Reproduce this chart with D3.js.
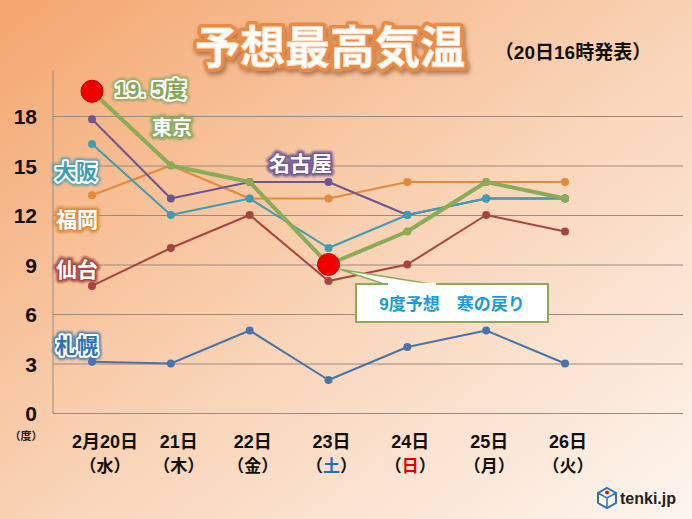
<html>
<head>
    <meta charset="utf-8">
    <script src="https://d3js.org/d3.v7.min.js"></script>
    <style>
        body { margin: 0; }
        text { font-family: "Liberation Sans", "Noto Sans CJK JP", sans-serif; font-weight: bold; }
        .grid line { stroke: #9a8a80; stroke-width: 1; }
    </style>
</head>
<body>
<svg width="692" height="519"></svg>
<script>
    const width = 692, height = 519;

    const days = ["2/20", "2/21", "2/22", "2/23", "2/24", "2/25", "2/26"];
    const dayLabels = ["2月20日", "21日", "22日", "23日", "24日", "25日", "26日"];
    const weekdays = ["水", "木", "金", "土", "日", "月", "火"];
    const yTicks = [0, 3, 6, 9, 12, 15, 18];

    const sapporo = [3.1, 3, 5, 2, 4, 5, 3];
    const sendai = [7.7, 10, 12, 8, 9, 12, 11];
    const fukuoka = [13.2, 15, 13, 13, 14, 14, 14];
    const nagoya = [17.8, 13, 14, 14, 12, 13, 13];
    const osaka = [16.3, 12, 13, 10, 12, 13, 13];
    const tokyo = [19.5, 15, 14, 9, 11, 14, 13];

    const series = [
        { name: "札幌", values: sapporo, color: "#4a74a8", w: 2 },
        { name: "仙台", values: sendai, color: "#a6453f", w: 2 },
        { name: "福岡", values: fukuoka, color: "#e08a3c", w: 2 },
        { name: "名古屋", values: nagoya, color: "#6c5595", w: 2 },
        { name: "大阪", values: osaka, color: "#3f9db3", w: 2 },
        { name: "東京", values: tokyo, color: "#8aab57", w: 4 }
    ];

    const svg = d3.select("svg");
    const defs = svg.append("defs");

    const bg = defs.append("linearGradient").attr("id", "bg")
        .attr("x1", "0%").attr("y1", "0%").attr("x2", "100%").attr("y2", "100%");
    bg.append("stop").attr("offset", "0%").attr("stop-color", "#f4a66e");
    bg.append("stop").attr("offset", "50%").attr("stop-color", "#f9d2b4");
    bg.append("stop").attr("offset", "100%").attr("stop-color", "#fdf5ef");

    const glow = defs.append("filter").attr("id", "glow")
        .attr("x", "-20%").attr("y", "-30%").attr("width", "140%").attr("height", "160%");
    glow.append("feGaussianBlur").attr("stdDeviation", 1.2);

    const shadow = defs.append("filter").attr("id", "shadow")
        .attr("x", "-10%").attr("y", "-20%").attr("width", "130%").attr("height", "150%");
    shadow.append("feDropShadow").attr("dx", 2).attr("dy", 3)
        .attr("stdDeviation", 2).attr("flood-color", "#7a4a2a").attr("flood-opacity", 0.6);

    svg.append("rect").attr("width", width).attr("height", height).attr("fill", "url(#bg)");

    const x = d3.scalePoint().domain(days).range([92, 565]);
    const y = d3.scaleLinear().domain([0, 18]).range([413, 116]);

    // gridlines
    svg.append("g")
       .attr("class", "grid")
       .attr("transform", "translate(53,0)")
       .call(d3.axisLeft(y).tickValues(yTicks).tickSize(-630).tickFormat(""))
       .call(g => g.select(".domain").remove());

    svg.append("line")
       .attr("x1", 53).attr("x2", 53).attr("y1", 70).attr("y2", 413)
       .attr("stroke", "#9a8a80");

    svg.append("g").selectAll("text")
       .data(yTicks)
       .enter().append("text")
       .attr("x", 37).attr("y", d => y(d) + 8)
       .attr("text-anchor", "end")
       .attr("font-size", 21)
       .attr("fill", "#111")
       .text(d => d);

    svg.append("text")
       .attr("x", 26).attr("y", 440)
       .attr("text-anchor", "middle")
       .attr("font-size", 11)
       .attr("fill", "#222")
       .text("（度）");

    // x labels
    const xl = svg.append("g");
    days.forEach((d, i) => {
        const cx = x(d) + (i === 0 ? 13 : (i === 1 ? 8 : 3));
        xl.append("text")
          .attr("x", cx).attr("y", 448)
          .attr("text-anchor", "middle")
          .attr("font-size", 18)
          .attr("fill", "#111")
          .text(dayLabels[i]);
        const t = xl.append("text")
          .attr("x", cx).attr("y", 472)
          .attr("text-anchor", "middle")
          .attr("font-size", 17)
          .attr("fill", "#111");
        t.append("tspan").text("（");
        t.append("tspan")
         .attr("fill", weekdays[i] === "土" ? "#1f6fbf" : weekdays[i] === "日" ? "#e00000" : "#111")
         .text(weekdays[i]);
        t.append("tspan").text("）");
    });

    // lines
    const line = d3.line().x((d, i) => x(days[i])).y(d => y(d));
    series.forEach(s => {
        svg.append("path")
           .datum(s.values)
           .attr("d", line)
           .attr("fill", "none")
           .attr("stroke", s.color)
           .attr("stroke-width", s.w)
           .attr("stroke-linejoin", "round");
        svg.append("g").selectAll("circle")
           .data(s.values)
           .enter().append("circle")
           .attr("cx", (d, i) => x(days[i]))
           .attr("cy", d => y(d))
           .attr("r", 4)
           .attr("fill", s.color);
    });

    // callout
    svg.append("path")
       .attr("d", `M${x("2/23") + 12},${y(9) + 5} L387,285 L437,285 Z`)
       .attr("fill", "#fff").attr("stroke", "#8aab57").attr("stroke-width", 1.5);
    svg.append("rect")
       .attr("x", 356).attr("y", 284).attr("width", 192).attr("height", 38)
       .attr("fill", "#fff").attr("stroke", "#8aab57").attr("stroke-width", 2);
    svg.append("line")
       .attr("x1", 388).attr("x2", 436).attr("y1", 284).attr("y2", 284)
       .attr("stroke", "#fff").attr("stroke-width", 2.5);
    svg.append("text")
       .attr("x", 452).attr("y", 310)
       .attr("text-anchor", "middle")
       .attr("font-size", 17)
       .attr("fill", "#1a9ad6")
       .text("9度予想　寒の戻り");

    // red highlight dots
    [["2/20", 19.5], ["2/23", 9]].forEach(p => {
        svg.append("circle")
           .attr("cx", x(p[0])).attr("cy", y(p[1]))
           .attr("r", 11)
           .attr("fill", "#f00000").attr("stroke", "#c80000").attr("stroke-width", 1);
    });

    // outlined labels: colored text with white rim, or white text with colored rim
    function label(txt, lx, ly, size, color, whiteFill) {
        const g = svg.append("g");
        g.append("text").attr("x", lx).attr("y", ly).attr("font-size", size)
         .attr("fill", color).attr("stroke", color).attr("stroke-width", whiteFill ? 6 : 8)
         .attr("stroke-linejoin", "round").attr("opacity", 0.85)
         .attr("filter", "url(#glow)").text(txt);
        if (whiteFill) {
            g.append("text").attr("x", lx).attr("y", ly).attr("font-size", size)
             .attr("fill", "#fff").attr("stroke", color).attr("stroke-width", 2)
             .attr("stroke-linejoin", "round").attr("paint-order", "stroke").text(txt);
        } else {
            g.append("text").attr("x", lx).attr("y", ly).attr("font-size", size)
             .attr("fill", color).attr("stroke", "#fff").attr("stroke-width", 4)
             .attr("stroke-linejoin", "round").attr("paint-order", "stroke").text(txt);
        }
    }
    label("19. 5度", 115, 97, 22, "#86a85a", false);
    label("東京", 152, 135, 20, "#86a85a", true);
    label("名古屋", 269, 171, 21, "#6c5595", true);
    label("大阪", 55, 179, 21, "#3f9db3", false);
    label("福岡", 56, 227, 21, "#e08a3c", true);
    label("仙台", 56, 277, 21, "#a6453f", true);
    label("札幌", 56, 353, 21, "#2f73b4", false);

    // title
    const tg = svg.append("g").attr("filter", "url(#shadow)");
    tg.append("text").attr("x", 330).attr("y", 64).attr("text-anchor", "middle")
      .attr("font-size", 45).attr("fill", "#e98a45").attr("stroke", "#e98a45")
      .attr("stroke-width", 8).attr("stroke-linejoin", "round").text("予想最高気温");
    tg.append("text").attr("x", 330).attr("y", 64).attr("text-anchor", "middle")
      .attr("font-size", 45).attr("fill", "#fff").attr("stroke", "#fbe1cc")
      .attr("stroke-width", 1).text("予想最高気温");

    svg.append("text")
       .attr("x", 573).attr("y", 59)
       .attr("text-anchor", "middle")
       .attr("font-size", 19)
       .attr("fill", "#111")
       .text("（20日16時発表）");

    // tenki.jp logo
    const lg = svg.append("g").attr("transform", "translate(598,488)");
    lg.append("path").attr("d", "M9,0 L18,5 L18,15 L9,20 L0,15 L0,5 Z")
      .attr("fill", "#fff").attr("stroke", "#2e6fb5").attr("stroke-width", 2);
    lg.append("path").attr("d", "M0,5 L9,10 L18,5 M9,10 L9,20")
      .attr("fill", "none").attr("stroke", "#2e6fb5").attr("stroke-width", 1.5);
    lg.append("circle").attr("cx", 9).attr("cy", 4.5).attr("r", 2).attr("fill", "#e01010");
    svg.append("text")
       .attr("x", 620).attr("y", 504)
       .attr("font-size", 16)
       .attr("fill", "#222")
       .text("tenki.jp");
</script>
</body>
</html>
